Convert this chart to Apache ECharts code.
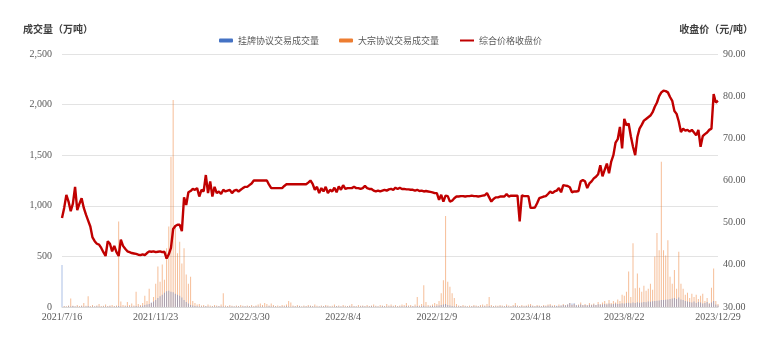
<!DOCTYPE html>
<html><head><meta charset="utf-8">
<script src="https://cdn.jsdelivr.net/npm/echarts@6/dist/echarts.min.js"></script>
<style>html,body{margin:0;padding:0;background:#fff}#c{width:765px;height:353px}</style>
</head><body><div id="c"></div>
<script>
const tickLabels = ['2021/7/16','2021/11/23','2022/3/30','2022/8/4','2022/12/9','2023/4/18','2023/8/22','2023/12/29'];
const seriesNames = ['挂牌协议交易成交量','大宗协议交易成交量','综合价格收盘价'];

const price = [
51.1,53.5,56.6,55.0,52.7,54.5,58.5,53.0,54.5,55.8,53.5,51.9,50.5,49.1,46.5,45.6,45.0,44.8,44.0,43.0,
42.1,45.6,45.0,43.2,44.5,43.0,42.1,46.0,44.5,43.8,43.2,43.0,42.8,42.7,42.6,42.4,42.3,42.5,42.3,42.8,
43.2,43.1,43.2,43.0,43.1,43.2,43.0,43.1,41.5,42.5,44.0,48.5,49.2,49.5,49.5,48.0,56.0,54.2,57.2,57.5,
58.0,57.8,58.2,56.2,57.8,57.4,61.3,57.0,59.8,56.2,58.5,57.0,57.4,56.8,57.8,57.4,57.6,57.8,57.0,57.6,
57.8,57.4,57.8,58.2,58.5,58.5,58.9,59.3,60.0,60.0,60.0,60.0,60.0,60.0,60.0,59.0,58.2,58.2,58.2,58.2,
58.2,58.2,58.7,59.1,59.1,59.1,59.1,59.1,59.1,59.1,59.1,59.1,59.1,59.5,60.0,59.2,57.8,58.5,57.0,58.2,
57.4,58.5,57.0,57.8,57.4,58.3,57.2,58.6,57.8,58.9,58.0,58.2,58.2,58.2,58.5,58.2,58.2,58.0,58.2,58.7,
58.2,58.0,58.0,57.6,57.4,57.6,57.4,57.6,57.8,57.6,57.9,58.0,57.8,58.3,58.0,58.3,58.0,58.0,57.9,57.9,
57.8,57.8,57.6,57.8,57.5,57.6,57.4,57.5,57.4,57.3,57.2,57.0,57.0,55.4,56.6,55.0,56.4,56.3,55.0,55.2,
55.8,56.2,56.2,56.3,56.3,56.2,56.3,56.3,56.4,56.3,56.3,56.2,56.3,56.4,56.5,57.0,56.0,55.0,55.6,56.0,
56.0,56.2,56.2,56.2,56.8,56.2,56.4,56.4,56.4,56.4,50.3,56.5,56.3,56.3,56.3,53.5,53.5,53.6,54.6,55.8,
56.0,56.2,56.3,56.8,57.4,57.0,57.4,57.6,58.2,57.2,58.9,58.8,58.7,58.4,57.2,57.4,57.4,57.5,59.8,60.1,
59.8,58.2,59.3,59.8,60.5,60.9,61.5,63.6,61.0,62.5,64.0,61.7,64.5,66.0,69.0,69.8,72.7,67.6,74.6,73.1,
73.5,70.5,68.0,66.0,70.3,72.3,73.2,74.2,74.6,75.0,75.4,76.2,77.5,78.5,80.0,80.9,81.3,81.2,80.9,79.8,
78.9,76.5,75.8,74.0,71.5,72.3,71.8,72.0,71.6,72.0,71.4,70.7,72.0,68.0,70.5,71.0,71.4,72.0,72.3,80.5,
78.5,78.9];

const bulkVolume = [
0,10,8,15,85,12,8,20,10,15,40,12,105,10,20,8,15,30,10,12,
25,10,15,20,10,15,845,55,20,15,50,20,35,15,150,30,20,40,110,60,
180,40,100,230,400,250,420,270,580,795,1485,2045,810,530,645,430,580,320,230,300,
60,40,25,30,15,20,10,25,15,10,20,15,10,25,135,15,10,20,12,8,
15,10,20,12,8,15,10,20,10,15,25,35,20,40,30,15,35,20,10,15,
10,20,15,25,60,45,15,10,20,12,8,15,10,20,15,10,25,12,8,15,
10,20,15,8,12,25,10,15,8,20,12,10,15,30,10,8,20,12,15,10,
20,10,15,25,12,8,20,15,10,30,15,25,12,20,10,15,25,20,40,15,
20,10,25,100,15,30,215,50,20,15,25,40,30,60,135,265,900,250,200,135,
90,30,15,10,20,12,8,15,10,20,15,10,20,25,15,30,100,20,10,15,
12,20,15,10,25,15,10,20,40,15,10,20,12,15,25,30,15,10,20,15,
10,20,15,25,30,15,20,10,25,15,30,20,25,40,20,30,15,25,45,20,
30,20,40,25,35,20,50,30,45,60,35,70,40,60,45,75,60,120,110,150,
350,100,630,185,330,190,150,210,160,180,230,170,500,730,560,1435,560,510,660,300,
230,365,180,545,230,180,120,140,90,130,100,120,80,110,130,60,90,40,190,380,
60,30];

const listedVolume = [
415,5,3,8,5,10,4,6,3,8,5,4,10,3,6,5,8,4,3,6,
5,4,8,3,6,5,10,4,3,6,8,5,4,6,10,5,8,12,20,25,
30,45,55,70,90,105,120,140,155,160,150,145,130,120,110,95,70,50,35,20,
15,10,8,5,6,4,8,5,3,6,5,4,8,5,6,3,5,4,6,5,
4,6,3,5,8,4,6,5,3,8,5,4,6,3,5,8,4,6,5,3,
5,4,6,8,5,3,6,4,5,8,3,6,5,4,8,6,5,3,6,4,
5,8,4,6,3,5,8,4,6,5,3,6,8,5,4,6,3,5,8,4,
6,5,8,4,6,5,3,8,5,6,4,8,5,6,4,5,8,6,10,5,
6,8,5,10,6,8,12,6,5,8,10,8,12,15,20,25,30,20,15,10,
8,6,5,8,4,6,5,3,6,8,5,4,6,5,8,6,10,5,4,6,
5,8,6,4,10,6,5,8,12,6,5,8,6,10,8,12,8,6,10,8,
6,10,8,12,15,10,8,12,10,15,20,15,25,40,35,40,20,15,25,18,
20,15,22,18,25,20,28,22,25,30,25,35,28,30,35,30,32,38,35,40,
42,38,45,40,48,42,45,50,48,55,52,58,60,62,65,70,68,72,75,80,
85,90,80,95,75,70,60,55,50,45,55,40,50,45,35,40,50,30,45,60,
25,15];

const step = 43;
const categories = price.map((_, i) => (i % step === 0 ? tickLabels[i / step] : 'd' + i));

const serif = '"Liberation Serif","Times New Roman",serif';
const cjk = '"Noto Sans CJK SC","Noto Sans",sans-serif';
const chart = echarts.init(document.getElementById('c'), null, {renderer: 'canvas'});
chart.setOption({
  animation: false,
  backgroundColor: '#fff',
  grid: {left: 62, right: 47, top: 54, bottom: 46, containLabel: false},
  legend: {
    left: 214, top: 31, itemWidth: 14, itemHeight: 4, itemGap: 20,
    textStyle: {fontSize: 9, color: '#595959', fontFamily: cjk},
    data: [
      {name: seriesNames[0], itemStyle: {opacity: 1}},
      {name: seriesNames[1], itemStyle: {opacity: 1}},
      {name: seriesNames[2], itemStyle: {opacity: 0}, lineStyle: {width: 2, color: '#C00000', opacity: 1}}
    ]
  },
  graphic: [
    {type: 'text', left: 23, top: 24, style: {text: '成交量（万吨）', fontSize: 10, fontWeight: 'bold', fill: '#404040', fontFamily: cjk}},
    {type: 'text', right: 12, top: 24, style: {text: '收盘价（元/吨）', fontSize: 10, fontWeight: 'bold', fill: '#404040', fontFamily: cjk}}
  ],
  xAxis: {
    type: 'category', data: categories, boundaryGap: false,
    axisLine: {lineStyle: {color: '#d9d9d9'}},
    axisTick: {show: false},
    axisLabel: {interval: step - 1, color: '#595959', fontSize: 10, margin: 5, fontFamily: serif,
      formatter: (v, i) => (i % step === 0 ? tickLabels[i / step] : '')}
  },
  yAxis: [
    {type: 'value', min: 0, max: 2500, interval: 500,
      axisLine: {show: false}, axisTick: {show: false},
      splitLine: {lineStyle: {color: '#e3e3e3'}},
      axisLabel: {color: '#595959', fontSize: 10, margin: 10, fontFamily: serif}},
    {type: 'value', min: 30, max: 90, interval: 10,
      axisLine: {show: false}, axisTick: {show: false}, splitLine: {show: false},
      axisLabel: {color: '#595959', fontSize: 10, margin: 5, fontFamily: serif, formatter: v => v.toFixed(2)}}
  ],
  series: [
    {name: seriesNames[1], type: 'bar', data: bulkVolume, barWidth: 1, barGap: '-100%', z: 1,
      itemStyle: {color: '#ED7D31', opacity: 0.5}},
    {name: seriesNames[0], type: 'bar', data: listedVolume, barWidth: 1, barGap: '-100%', z: 2,
      itemStyle: {color: '#4472C4', opacity: 0.45}},
    {name: seriesNames[2], type: 'line', yAxisIndex: 1, data: price, symbol: 'none', z: 5,
      lineStyle: {color: '#C00000', width: 2.4}, itemStyle: {color: '#C00000'}}
  ]
});
</script></body></html>
